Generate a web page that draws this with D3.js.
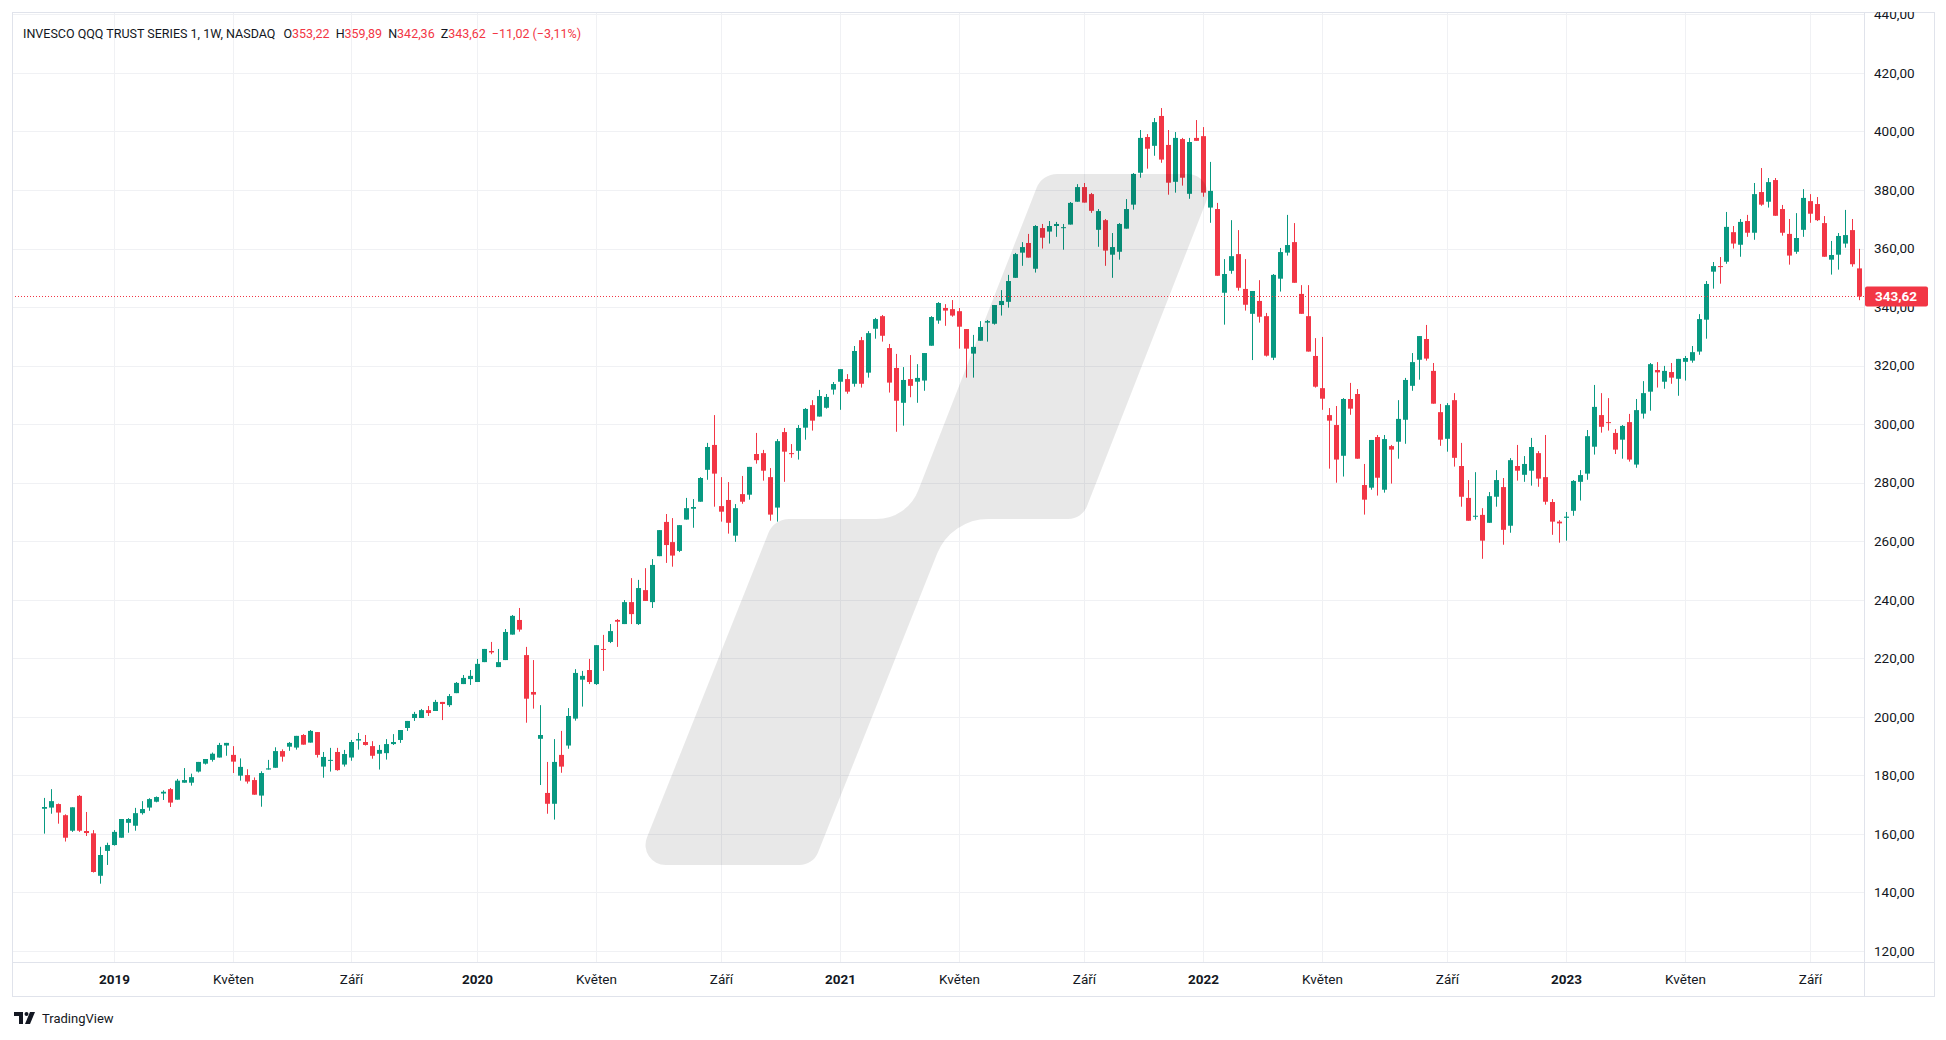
<!DOCTYPE html>
<meta charset='utf-8'>
<title>QQQ 1W</title>
<style>
body {
  margin: 0;
  background-color: #fff;
}
text {
  font-family: Roboto, "Liberation Sans", sans-serif;
}
</style>
<svg width="1946" height="1040"></svg>
<script src="https://d3js.org/d3.v7.min.js"></script>
<script>

// weekly bars, first bar = week of 29 Oct 2018, last = week of 23 Oct 2023
var firstWeek = new Date(2018, 9, 29),
    lastWeek = new Date(2023, 9, 24);

var open = [
  168.6,169.0,170.2,166.4,161.1,173.0,161.0,160.2,145.7,154.2,156.2,158.7,163.8,162.8,167.1,169.0,171.0,173.8,175.3,171.7,
  177.5,177.5,181.3,184.0,185.3,186.1,190.2,187.0,179.9,180.1,178.4,173.1,182.0,182.6,188.3,189.8,189.5,193.8,191.2,194.8,
  183.0,185.0,188.0,183.7,186.1,191.9,191.4,190.0,187.4,187.6,190.7,192.1,196.2,199.6,199.6,202.3,202.0,205.1,204.0,208.1,
  211.2,212.9,211.9,218.7,222.5,217.0,219.4,228.1,233.1,221.1,208.5,192.5,174.0,170.3,187.0,190.2,199.4,212.7,216.0,211.2,
  223.2,225.6,233.1,231.7,239.2,231.7,243.3,239.2,254.9,266.6,259.7,256.7,267.4,271.1,273.5,284.4,292.9,272.0,274.1,261.9,
  276.1,275.9,289.8,290.1,281.9,271.5,297.3,290.1,290.9,298.8,306.5,302.6,305.6,311.8,314.5,315.4,313.8,328.7,317.6,332.6,
  336.9,326.0,319.2,307.3,315.4,314.5,314.9,326.8,335.4,339.7,339.3,338.6,332.5,324.1,328.5,334.7,334.3,340.7,341.8,350.0,
  358.6,361.9,353.1,367.0,365.8,367.7,367.1,368.2,376.0,381.0,378.6,366.4,369.7,357.9,358.9,366.8,375.0,385.9,398.1,395.1,
  405.3,395.4,382.8,397.4,378.7,397.8,398.4,374.0,373.5,344.9,352.4,358.1,346.2,337.7,342.1,336.9,322.7,349.7,358.6,362.2,
  344.5,336.9,323.3,312.3,303.1,299.7,289.2,308.6,310.3,279.2,278.3,295.6,277.6,292.5,294.0,301.5,313.1,322.0,329.1,318.2,
  304.1,295.0,308.2,285.7,274.8,268.4,269.0,266.3,275.2,278.5,265.3,285.7,282.7,284.1,290.1,281.9,273.4,266.7,268.0,270.4,
  280.3,283.1,292.3,303.1,300.7,297.0,294.7,300.7,286.2,303.6,311.1,318.5,314.5,317.8,315.5,321.3,321.7,324.8,335.7,352.1,
  354.0,355.5,365.6,361.3,369.4,365.4,379.3,376.0,383.4,373.5,365.0,358.9,366.4,376.2,375.2,368.7,356.2,357.9,361.7,366.3,
  353.22
];
var high = [
  172.3,175.3,170.4,166.7,169.1,173.3,167.5,161.3,155.6,157.0,161.3,165.1,165.4,168.9,171.2,172.2,172.8,174.9,175.7,178.8,
  182.5,180.6,184.6,185.6,187.8,191.1,191.1,190.0,185.8,182.1,179.3,181.4,185.3,189.6,188.9,191.4,193.5,194.1,195.5,194.8,
  188.0,189.4,189.4,188.7,192.1,194.5,193.8,191.7,190.4,192.4,194.1,195.5,198.6,201.7,202.7,203.7,205.8,205.1,207.8,211.9,
  214.3,216.0,219.8,223.2,225.6,223.2,230.0,234.8,237.2,223.9,219.4,204.0,184.6,192.4,195.2,203.0,216.3,215.7,219.8,224.5,
  228.0,231.7,233.4,239.9,247.4,246.8,250.8,253.9,263.8,269.3,267.9,265.5,274.8,274.4,281.9,293.6,303.1,281.9,280.2,272.7,
  282.3,285.4,297.0,291.2,285.0,294.9,298.7,293.2,299.7,305.5,308.2,311.7,310.3,314.4,318.8,317.1,326.7,329.8,331.8,336.3,
  337.3,327.4,324.0,319.5,323.6,320.5,324.3,336.9,341.7,341.0,342.4,339.7,332.5,330.5,335.2,335.6,340.7,345.8,351.0,358.5,
  362.2,365.0,368.0,368.4,369.4,369.1,368.4,375.9,382.0,382.4,379.0,373.5,370.1,365.3,368.7,376.9,385.8,400.5,399.1,404.6,
  408.0,400.5,399.8,397.8,397.8,403.9,401.5,389.6,375.6,356.4,369.7,366.3,356.4,345.5,349.2,338.0,351.3,360.2,371.5,368.7,
  347.5,347.5,329.4,329.8,305.5,306.2,308.9,314.1,312.0,286.4,294.6,296.3,296.3,292.9,308.2,315.8,324.3,330.1,333.9,320.9,
  306.9,307.2,310.6,293.6,280.9,283.6,271.3,276.8,284.3,281.6,288.4,292.9,289.1,295.3,290.8,296.3,274.4,267.2,270.0,280.9,
  284.3,298.0,313.4,310.6,308.9,298.3,299.7,303.5,308.6,314.7,320.9,321.2,319.9,320.9,322.3,323.3,326.7,337.6,348.9,355.4,
  357.1,372.5,367.7,370.1,371.5,382.4,387.5,384.1,384.1,374.9,370.1,372.1,380.3,378.6,377.6,371.1,362.6,365.3,373.2,370.1,
  359.89
];
var low = [
  160.1,166.9,163.5,157.4,160.7,160.7,159.3,146.8,143.0,149.4,156.0,158.7,160.4,161.1,166.6,167.9,170.8,171.6,169.2,171.7,
  177.5,176.5,181.0,183.7,184.7,186.1,186.7,180.8,178.2,177.2,173.4,169.3,182.0,182.6,184.7,188.4,188.8,190.5,191.2,186.1,
  179.2,181.3,181.6,183.0,185.0,188.8,190.2,185.7,182.0,185.4,190.4,191.1,195.2,198.6,199.6,200.3,202.0,198.9,203.4,208.1,
  211.2,210.9,211.9,218.7,221.4,217.0,219.4,228.1,229.1,198.0,202.8,176.7,166.9,164.9,180.9,189.1,198.7,203.5,211.2,210.9,
  215.7,225.2,223.9,231.7,231.7,231.4,239.6,237.2,254.9,252.6,251.3,256.3,267.4,264.6,273.5,281.0,271.8,266.7,262.6,259.8,
  272.8,274.2,286.5,280.7,267.0,266.7,280.3,288.5,287.9,294.7,297.8,302.6,305.3,310.1,304.9,310.4,312.8,312.5,315.9,329.2,
  328.2,310.8,297.4,299.5,309.2,307.3,311.4,326.8,334.3,333.6,336.7,325.8,315.9,315.9,328.5,328.2,334.0,337.1,339.8,350.0,
  354.1,356.9,351.8,360.0,361.7,364.0,359.6,368.2,376.0,375.7,372.2,360.6,354.1,350.0,356.2,366.8,373.3,384.2,387.3,391.7,
  389.3,378.4,379.1,381.5,377.0,396.8,377.7,368.8,350.7,334.0,351.4,345.6,338.8,321.9,334.7,323.1,321.9,345.3,357.6,348.3,
  337.7,324.8,312.5,304.9,284.8,280.0,282.1,303.2,288.2,269.1,277.6,275.6,276.6,279.7,288.2,293.3,311.4,315.2,321.7,307.0,
  292.6,290.6,285.5,271.8,267.0,267.4,254.0,266.3,271.8,258.8,262.9,280.7,280.3,279.0,278.6,272.5,262.2,259.5,260.2,268.7,
  273.9,281.0,289.6,297.1,297.8,289.8,288.2,287.2,285.1,301.9,304.6,312.5,312.1,313.8,309.7,314.9,321.0,323.7,329.2,346.3,
  348.0,354.8,360.0,357.2,364.0,363.0,374.6,374.0,371.2,364.4,354.5,358.2,364.0,368.8,369.4,357.2,351.1,352.8,360.3,353.8,
  342.36
];
var close = [
  169.2,171.2,167.3,158.7,169.1,161.1,160.3,147.0,152.8,156.2,160.7,165.1,165.1,167.1,168.5,171.9,172.6,174.4,170.7,178.2,
  178.4,179.4,184.6,185.6,187.4,190.4,191.1,184.7,182.9,177.9,173.4,180.8,182.4,188.3,186.4,191.1,193.5,190.5,195.2,187.0,
  186.3,185.3,181.8,187.3,191.4,192.4,190.4,186.7,188.7,190.7,191.4,195.5,198.6,201.0,202.3,201.3,205.1,204.4,207.1,211.6,
  213.3,214.0,218.1,223.2,222.0,218.7,229.0,234.5,229.8,206.2,207.6,193.8,170.3,184.6,183.0,200.3,215.0,214.0,211.9,224.5,
  222.9,229.3,232.5,239.2,235.1,244.0,239.6,251.9,263.8,258.7,255.1,265.5,271.3,271.7,281.6,292.2,283.1,270.1,266.3,271.3,
  273.5,285.4,287.7,284.1,269.1,294.2,290.6,289.9,298.7,305.2,301.2,309.6,309.3,313.7,318.8,311.1,325.0,313.8,331.1,335.9,
  330.2,314.2,308.0,315.1,313.1,315.8,324.3,336.6,341.4,338.8,337.1,333.3,325.8,326.4,333.2,335.2,340.7,342.1,348.9,358.1,
  360.5,356.9,367.7,363.7,367.7,368.4,367.3,375.6,381.0,375.7,372.9,372.8,359.3,360.5,368.4,373.5,385.5,397.8,394.1,403.2,
  390.4,382.5,397.8,384.2,396.4,396.8,379.1,379.7,350.7,351.3,357.4,346.6,340.8,345.5,336.7,323.4,351.0,358.8,361.2,348.3,
  337.7,324.8,312.8,308.7,301.2,287.9,308.6,305.3,288.2,274.2,294.6,281.7,294.9,291.3,301.8,315.1,321.2,330.1,322.4,307.0,
  294.7,306.5,288.5,275.2,267.0,268.7,260.2,275.4,280.9,263.9,287.7,284.1,286.4,292.2,281.4,273.5,266.7,266.1,268.4,280.6,
  282.6,295.9,305.9,299.1,300.5,291.3,299.4,287.9,304.8,310.6,320.5,317.7,318.2,315.9,322.3,322.6,324.6,335.9,347.9,354.0,
  353.8,367.4,361.7,369.1,365.4,378.6,375.0,382.7,371.2,365.4,357.6,363.6,377.3,371.9,369.7,357.2,357.8,364.3,364.6,354.64,
  343.62
];

var priceTicks = [120, 140, 160, 180, 200, 220, 240, 260, 280, 300, 320, 340, 360, 380, 400, 420, 440];
var monthNames = ["Leden", "Únor", "Březen", "Duben", "Květen", "Červen",
                  "Červenec", "Srpen", "Září", "Říjen", "Listopad", "Prosinec"];
var labelMonths = [0, 4, 8];

var symbol = "INVESCO QQQ TRUST SERIES 1, 1W, NASDAQ";

var width = 1946, height = 1040;
var plot = {left: 12, top: 12, right: 1864, bottom: 962};
var axisRight = 1934, axisBottom = 996;

var upColor = "#089981", downColor = "#f23645";
var gridColor = "#f0f1f4", borderColor = "#e0e3eb", textColor = "#131722";

var svg = d3.select("svg");

var dates = d3.timeMonday.range(firstWeek, lastWeek);
var bars = dates.map(function(d, i) {
  return {date: d, i: i, o: open[i], h: high[i], l: low[i], c: close[i]};
});

var x = d3.scaleBand()
    .domain(d3.range(bars.length))
    .range([40.8, 1862.6]);

var y = d3.scaleLinear()
    .domain([120, 440])
    .range([951, 14.4]);

var locale = d3.formatLocale({decimal: ",", thousands: " ", grouping: [3], currency: ["", ""], minus: "\u2212"});
var fmt = locale.format(".2f");
var fmtSigned = locale.format("+.2f");

function cx(i) { return Math.round(x(i) + x.bandwidth() / 2); }

// time labels: first bar of Jan / May / Sep
var timeLabels = bars.filter(function(b, i) {
  if (i === 0) return false;
  var m = b.date.getMonth();
  return m !== bars[i - 1].date.getMonth() && labelMonths.indexOf(m) >= 0;
}).map(function(b) {
  var m = b.date.getMonth();
  return {i: b.i, text: m === 0 ? String(b.date.getFullYear()) : monthNames[m], year: m === 0};
});

svg.append("rect")
    .attr("width", width).attr("height", height)
    .attr("fill", "#fff");

var defs = svg.append("defs");
defs.append("clipPath").attr("id", "plotClip")
  .append("rect")
    .attr("x", plot.left).attr("y", plot.top)
    .attr("width", plot.right - plot.left).attr("height", plot.bottom - plot.top);
defs.append("clipPath").attr("id", "axisClip")
  .append("rect")
    .attr("x", plot.right).attr("y", plot.top)
    .attr("width", axisRight - plot.right).attr("height", plot.bottom - plot.top);

var chart = svg.append("g").attr("clip-path", "url(#plotClip)");

// grid
chart.append("g")
  .selectAll("line")
  .data(priceTicks)
  .join("line")
    .attr("x1", plot.left).attr("x2", plot.right)
    .attr("y1", function(d) { return Math.round(y(d)) + 0.5; })
    .attr("y2", function(d) { return Math.round(y(d)) + 0.5; })
    .attr("stroke", gridColor);

chart.append("g")
  .selectAll("line")
  .data(timeLabels)
  .join("line")
    .attr("x1", function(d) { return cx(d.i) + 0.5; })
    .attr("x2", function(d) { return cx(d.i) + 0.5; })
    .attr("y1", plot.top).attr("y2", plot.bottom)
    .attr("stroke", gridColor);

// candles
var candle = chart.append("g")
  .selectAll("g")
  .data(bars)
  .join("g")
    .attr("fill", function(d) { return d.c >= d.o ? upColor : downColor; })
    .attr("stroke", function(d) { return d.c >= d.o ? upColor : downColor; });

candle.append("line")
    .attr("x1", function(d) { return cx(d.i) + 0.5; })
    .attr("x2", function(d) { return cx(d.i) + 0.5; })
    .attr("y1", function(d) { return y(d.h); })
    .attr("y2", function(d) { return y(d.l); });

candle.append("rect")
    .attr("stroke", "none")
    .attr("x", function(d) { return cx(d.i) - 2; })
    .attr("width", 5)
    .attr("y", function(d) { return Math.min(y(d.o), y(d.c)); })
    .attr("height", function(d) { return Math.max(1, Math.abs(y(d.o) - y(d.c))); });

// background logo (drawn as a translucent overlay like the reference)
var logoPts = [[636, 865], [774, 519], [907, 519], [1042, 174], [1217, 174], [1082, 519], [951, 519], [813, 865]];
var logoRadii = [20, 22, 45, 22, 20, 20, 55, 20];
function roundedPath(pts, radii) {
  var p = d3.path(), n = pts.length;
  p.moveTo((pts[n - 1][0] + pts[0][0]) / 2, (pts[n - 1][1] + pts[0][1]) / 2);
  for (var k = 0; k < n; k++) {
    var a = pts[k], b = pts[(k + 1) % n];
    p.arcTo(a[0], a[1], b[0], b[1], radii[k]);
  }
  p.closePath();
  return p.toString();
}
chart.append("path")
    .attr("d", roundedPath(logoPts, logoRadii))
    .attr("fill", "rgba(0,0,0,0.09)");

// last price line
var last = bars[bars.length - 1];
chart.append("line")
    .attr("x1", plot.left).attr("x2", plot.right)
    .attr("y1", Math.round(y(last.c)) + 0.5).attr("y2", Math.round(y(last.c)) + 0.5)
    .attr("stroke", downColor)
    .attr("stroke-dasharray", "1,2");

// legend
var legend = svg.append("text")
    .attr("x", 23).attr("y", 38)
    .attr("font-size", 12.5)
    .attr("fill", textColor);
legend.append("tspan").text(symbol);
[["O", last.o], ["H", last.h], ["N", last.l], ["Z", last.c]].forEach(function(p, k) {
  legend.append("tspan").attr("dx", k === 0 ? 8 : 6).text(p[0]);
  legend.append("tspan").attr("fill", downColor).text(fmt(p[1]));
});
var prevClose = close[close.length - 2];
var chg = last.c - prevClose;
legend.append("tspan").attr("dx", 6).attr("fill", downColor)
    .text(fmt(chg) + " (" + fmt(chg / prevClose * 100) + "%)");

// frame
svg.append("rect")
    .attr("x", plot.left + 0.5).attr("y", plot.top + 0.5)
    .attr("width", axisRight - plot.left).attr("height", axisBottom - plot.top)
    .attr("fill", "none").attr("stroke", borderColor);
svg.append("line")
    .attr("x1", plot.left).attr("x2", axisRight)
    .attr("y1", plot.bottom + 0.5).attr("y2", plot.bottom + 0.5)
    .attr("stroke", borderColor);
svg.append("line")
    .attr("x1", plot.right + 0.5).attr("x2", plot.right + 0.5)
    .attr("y1", plot.top).attr("y2", axisBottom)
    .attr("stroke", borderColor);

// price axis
var lastY = y(last.c);
var yAxis = svg.append("g").attr("clip-path", "url(#axisClip)");
yAxis.selectAll("text")
  .data(priceTicks)
  .join("text")
    .attr("x", 1874)
    .attr("y", function(d) { return y(d); })
    .attr("dy", "0.35em")
    .attr("font-size", 13.5)
    .attr("fill", textColor)
    .text(function(d) { return fmt(d); });

yAxis.append("rect")
    .attr("x", plot.right + 1).attr("y", lastY - 10)
    .attr("width", 63).attr("height", 20)
    .attr("rx", 2)
    .attr("fill", downColor);
yAxis.append("text")
    .attr("x", 1896).attr("y", lastY)
    .attr("dy", "0.35em")
    .attr("text-anchor", "middle")
    .attr("font-size", 13.5)
    .attr("font-weight", "bold")
    .attr("fill", "#fff")
    .text(fmt(last.c));

// time axis
svg.append("g")
  .selectAll("text")
  .data(timeLabels)
  .join("text")
    .attr("x", function(d) { return cx(d.i) + 0.5; })
    .attr("y", 979)
    .attr("dy", "0.35em")
    .attr("text-anchor", "middle")
    .attr("font-size", 13.5)
    .attr("font-weight", function(d) { return d.year ? "bold" : "normal"; })
    .attr("fill", textColor)
    .text(function(d) { return d.text; });

// TradingView mark
var tv = svg.append("g").attr("transform", "translate(14,1012)").attr("fill", textColor);
tv.append("path").attr("d", "M0 0H9V12H5V4H0Z");
tv.append("circle").attr("cx", 12.5).attr("cy", 2).attr("r", 2);
tv.append("path").attr("d", "M16 0H21L16 12H11Z");
svg.append("text")
    .attr("x", 42).attr("y", 1023)
    .attr("font-size", 13)
    .attr("fill", textColor)
    .text("TradingView");

</script>
